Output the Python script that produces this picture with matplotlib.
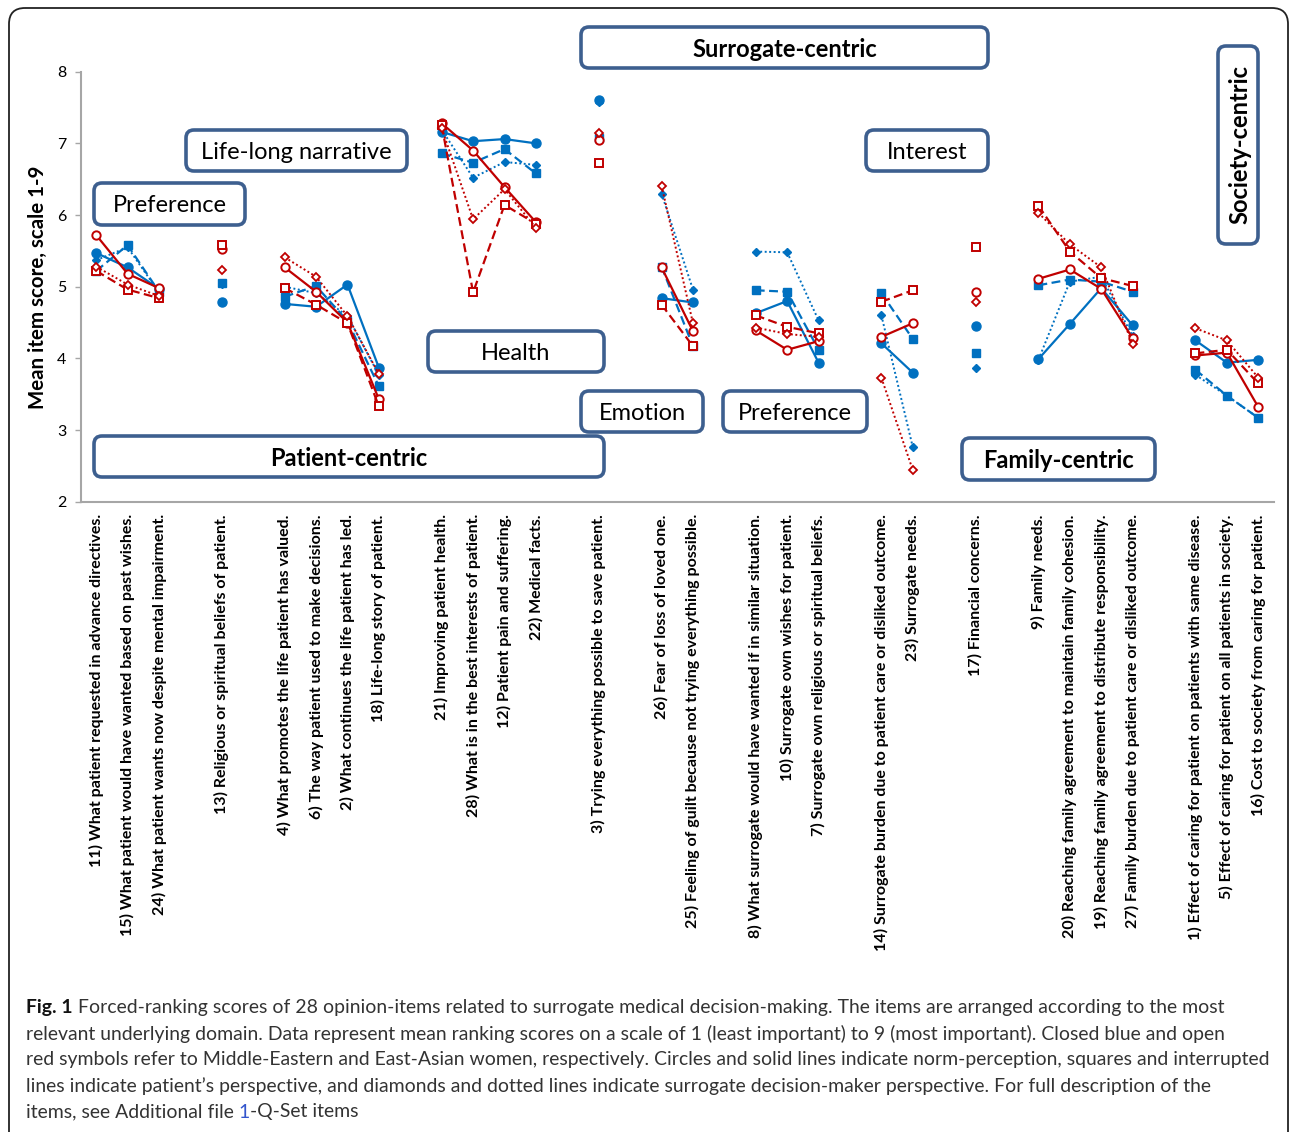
import matplotlib
matplotlib.use('Agg')
import matplotlib.pyplot as plt
from matplotlib.patches import FancyBboxPatch
import numpy as np

plt.rcParams['font.family'] = ['Lato', 'DejaVu Sans']

# items, grouped by domain (an empty category sits between groups)
groups = [
    ['11) What patient requested in advance directives.',
     '15) What patient would have wanted based on past wishes.',
     '24) What patient wants now despite mental impairment.'],
    ['13) Religious or spiritual beliefs of patient.'],
    ['4) What promotes the life patient has valued.',
     '6) The way patient used to make decisions.',
     '2) What continues the life patient has led.',
     '18) Life-long story of patient.'],
    ['21) Improving patient health.',
     '28) What is in the best interests of patient.',
     '12) Patient pain and suffering.',
     '22) Medical facts.'],
    ['3) Trying everything possible to save patient.'],
    ['26) Fear of loss of loved one.',
     '25) Feeling of guilt because not trying everything possible.'],
    ['8) What surrogate would have wanted if in similar situation.',
     '10) Surrogate own wishes for patient.',
     '7) Surrogate own religious or spiritual beliefs.'],
    ['14) Surrogate burden due to patient care or disliked outcome.',
     '23) Surrogate needs.'],
    ['17) Financial concerns.'],
    ['9) Family needs.',
     '20) Reaching family agreement to maintain family cohesion.',
     '19) Reaching family agreement to distribute responsibility.',
     '27) Family burden due to patient care or disliked outcome.'],
    ['1) Effect of caring for patient on patients with same disease.',
     '5) Effect of caring for patient on all patients in society.',
     '16) Cost to society from caring for patient.'],
]

# Middle-Eastern women (blue, closed symbols)
me_norm = [5.47, 5.27, 4.97, 4.78, 4.76, 4.72, 5.03, 3.87, 7.16, 7.03, 7.06, 7.00, 7.61,
           4.84, 4.78, 4.63, 4.80, 3.94, 4.21, 3.80, 4.45, 3.99, 4.48, 4.98, 4.46, 4.25, 3.94, 3.98]
me_patient = [5.22, 5.58, 4.93, 5.05, 4.86, 5.01, 4.52, 3.61, 6.86, 6.73, 6.92, 6.58, 7.08,
              5.28, 4.17, 4.95, 4.93, 4.12, 4.91, 4.27, 4.08, 5.02, 5.10, 5.07, 4.93, 3.84, 3.48, 3.17]
me_surrogate = [5.37, 5.55, 4.92, 5.04, 5.00, 4.91, 4.59, 3.77, 7.19, 6.52, 6.74, 6.70, 7.58,
                6.30, 4.96, 5.49, 5.48, 4.53, 4.60, 2.76, 3.87, 3.98, 5.07, 5.14, 4.31, 3.77, 3.48, 3.17]
# East-Asian women (red, open symbols)
ea_norm = [5.72, 5.18, 4.98, 5.52, 5.27, 4.93, 4.50, 3.43, 7.28, 6.90, 6.39, 5.90, 7.05,
           5.27, 4.38, 4.39, 4.12, 4.24, 4.30, 4.49, 4.93, 5.11, 5.24, 4.97, 4.28, 4.04, 4.08, 3.32]
ea_patient = [5.22, 4.96, 4.84, 5.58, 4.98, 4.75, 4.49, 3.33, 7.25, 4.92, 6.14, 5.88, 6.72,
              4.75, 4.17, 4.60, 4.44, 4.35, 4.79, 4.95, 5.55, 6.13, 5.49, 5.12, 5.01, 4.07, 4.12, 3.65]
ea_surrogate = [5.28, 5.03, 4.87, 5.23, 5.41, 5.14, 4.59, 3.78, 7.21, 5.94, 6.36, 5.82, 7.15,
                6.41, 4.49, 4.43, 4.34, 4.30, 3.73, 2.44, 4.78, 6.03, 5.59, 5.27, 4.20, 4.42, 4.25, 3.73]

BLUE = '#0070C0'
RED = '#C00000'
BOX = '#3D5F8F'
GREY = '#A6A6A6'

W, H = 1292, 1132
fig = plt.figure(figsize=(W / 100, H / 100), dpi=100)
ax = fig.add_axes([80.5 / W, 1 - 501.7 / H, (1274 - 80.5) / W, (501.7 - 71.7) / H])

# slot position of each item, one empty slot between groups
slots = []
group_idx = []
pos = 0
for g in groups:
    idx = list(range(len(slots), len(slots) + len(g)))
    group_idx.append((list(range(pos, pos + len(g))), idx))
    slots += list(range(pos, pos + len(g)))
    pos += len(g) + 1
labels = [lab for g in groups for lab in g]

series = [
    (me_norm, dict(color=BLUE, ls='-', lw=1.6, marker='o', ms=6.5, mfc=BLUE, mec=BLUE)),
    (me_patient, dict(color=BLUE, ls=(0, (4, 2)), lw=1.6, marker='s', ms=6, mfc=BLUE, mec=BLUE)),
    (me_surrogate, dict(color=BLUE, ls=(0, (1, 1.3)), lw=1.4, marker='D', ms=4.2, mfc=BLUE, mec=BLUE)),
    (ea_norm, dict(color=RED, ls='-', lw=1.6, marker='o', ms=6, mfc='white', mec=RED, mew=1.4)),
    (ea_patient, dict(color=RED, ls=(0, (4, 2)), lw=1.6, marker='s', ms=5.5, mfc='white', mec=RED, mew=1.4)),
    (ea_surrogate, dict(color=RED, ls=(0, (1, 1.3)), lw=1.4, marker='D', ms=3.8, mfc='white', mec=RED, mew=1.3)),
]
for vals, style in series:
    for xs, idx in group_idx:
        ax.plot(xs, [vals[i] for i in idx], clip_on=False, **style)

ax.set_xlim(-0.5, pos - 1.5)
ax.set_ylim(2, 8)
ax.set_yticks(range(2, 9))
ax.set_xticks(slots)
ax.set_xticklabels(labels, rotation=90, fontweight='bold', fontsize=11.5, va='top', ha='center')
ax.tick_params(axis='x', length=0, pad=9)
ax.tick_params(axis='y', length=4, width=1, color=GREY, labelsize=11.5, pad=6)
for s in ['top', 'right']:
    ax.spines[s].set_visible(False)
for s in ['left', 'bottom']:
    ax.spines[s].set_color(GREY)
    ax.spines[s].set_linewidth(1.5)

# overlay in pixel coordinates for boxes and caption
ov = fig.add_axes([0, 0, 1, 1], zorder=5)
ov.set_xlim(0, W)
ov.set_ylim(H, 0)
ov.axis('off')
ov.patch.set_alpha(0)

ov.add_patch(FancyBboxPatch((9, 8), 1279, 1160, boxstyle='round,pad=0,rounding_size=16',
                            fc='none', ec='#222222', lw=1.3))

ov.text(38, 287, 'Mean item score, scale 1-9', rotation=90, ha='center', va='center',
        fontsize=14.8, fontweight='bold')


def box(x0, y0, x1, y1, text, bold=False, vertical=False):
    ov.add_patch(FancyBboxPatch((x0, y0), x1 - x0, y1 - y0, boxstyle='round,pad=0,rounding_size=8',
                                fc='white', ec=BOX, lw=2.6))
    if vertical:
        ov.text((x0 + x1) / 2 + 2, (y0 + y1) / 2, text, ha='center', va='center', fontsize=17,
                fontweight='bold', rotation=90)
    else:
        ov.text((x0 + x1) / 2, (y0 + y1) / 2 + 2, text, ha='center', va='center', fontsize=17,
                fontweight='bold' if bold else 'normal')


box(581, 27, 988, 68, 'Surrogate-centric', bold=True)
box(186, 130, 407, 171, 'Life-long narrative')
box(866, 130, 988, 171, 'Interest')
box(94, 183, 245, 225, 'Preference')
box(428, 331, 604, 372, 'Health')
box(581, 391, 703, 432, 'Emotion')
box(723, 391, 867, 432, 'Preference')
box(94, 436, 604, 477, 'Patient-centric', bold=True)
box(962, 438, 1155, 480, 'Family-centric', bold=True)
box(1218, 46, 1258, 244, 'Society-centric', bold=True, vertical=True)

# caption
cap = [
    'Forced-ranking scores of 28 opinion-items related to surrogate medical decision-making. The items are arranged according to the most',
    'relevant underlying domain. Data represent mean ranking scores on a scale of 1 (least important) to 9 (most important). Closed blue and open',
    'red symbols refer to Middle-Eastern and East-Asian women, respectively. Circles and solid lines indicate norm-perception, squares and interrupted',
    'lines indicate patient\u2019s perspective, and diamonds and dotted lines indicate surrogate decision-maker perspective. For full description of the',
]
cfs = 13.95
ccol = '#333333'
r = fig.canvas.get_renderer()
t = ov.text(26, 1008, 'Fig. 1', fontsize=cfs, fontweight='bold', va='center', color='#111111')
x_after = t.get_window_extent(r).x1 + 5
ov.text(x_after, 1008, cap[0], fontsize=cfs, va='center', color=ccol)
for i, line in enumerate(cap[1:]):
    ov.text(26, 1034 + 26 * i, line, fontsize=cfs, va='center', color=ccol)
t = ov.text(26, 1112, 'items, see Additional file ', fontsize=cfs, va='center', color=ccol)
x1 = t.get_window_extent(r).x1
t = ov.text(x1, 1112, '1', fontsize=cfs, va='center', color='#3355CC')
x2 = t.get_window_extent(r).x1
ov.text(x2, 1112, '-Q-Set items', fontsize=cfs, va='center', color=ccol)

fig.savefig('out.png', dpi=100)
